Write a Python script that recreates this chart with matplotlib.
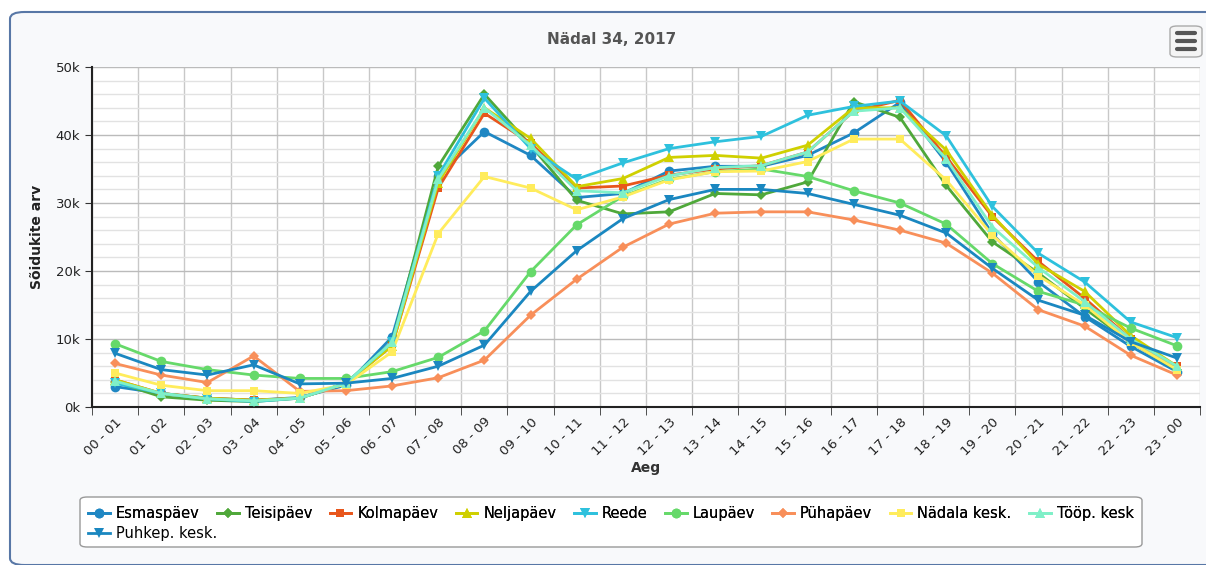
import numpy as np
import matplotlib.pyplot as plt
from matplotlib.patches import FancyBboxPatch
from matplotlib.lines import Line2D
from matplotlib.ticker import MultipleLocator, FuncFormatter

# tunnid
hours = ["%02d - %02d" % (h, (h + 1) % 24) for h in range(24)]

# andmed (tuhandetes)
esmaspaev = [3.0, 2.0, 1.3, 1.0, 1.4, 3.2, 10.3, 34.0, 40.5, 37.0, 30.8, 31.4, 34.7, 35.4, 35.4, 37.0,
             40.3, 44.8, 36.0, 25.5, 18.4, 13.3, 8.9, 5.2]
teisipaev = [3.7, 1.5, 1.0, 0.8, 1.3, 3.5, 9.5, 35.4, 46.0, 38.5, 30.4, 28.4, 28.7, 31.4, 31.2, 33.1,
             44.9, 42.6, 32.6, 24.3, 19.7, 14.5, 9.5, 5.5]
kolmapaev = [4.0, 2.0, 1.3, 1.0, 1.3, 3.5, 9.0, 32.2, 43.2, 38.8, 32.2, 32.5, 34.1, 35.0, 35.5, 37.5,
             43.5, 45.1, 36.8, 28.0, 21.4, 16.0, 10.0, 6.0]
neljapaev = [4.0, 2.0, 1.3, 1.0, 1.3, 3.5, 9.0, 33.0, 44.0, 39.5, 32.4, 33.6, 36.7, 37.0, 36.6, 38.5,
             44.0, 44.0, 37.8, 28.2, 21.0, 17.0, 10.5, 6.0]
reede = [3.5, 2.0, 1.2, 0.8, 1.3, 3.5, 9.5, 34.0, 45.4, 38.0, 33.5, 35.9, 38.0, 39.0, 39.8, 42.9,
         44.2, 45.0, 39.9, 29.5, 22.6, 18.4, 12.5, 10.2]
laupaev = [9.3, 6.7, 5.5, 4.7, 4.2, 4.2, 5.2, 7.3, 11.2, 19.9, 26.8, 31.0, 33.5, 34.6, 35.0, 33.9,
           31.8, 30.0, 26.9, 21.1, 17.0, 15.0, 11.6, 9.0]
puhapaev = [6.4, 4.7, 3.6, 7.5, 2.3, 2.4, 3.1, 4.3, 6.9, 13.5, 18.8, 23.5, 26.9, 28.5, 28.7, 28.7,
            27.5, 26.0, 24.1, 19.7, 14.3, 11.9, 7.6, 4.7]
nadala_kesk = [5.0, 3.2, 2.4, 2.4, 2.0, 3.3, 8.1, 25.5, 33.9, 32.2, 29.0, 30.9, 33.4, 34.6, 34.7, 36.1,
               39.4, 39.4, 33.4, 25.3, 19.3, 15.0, 9.5, 5.5]
toop_kesk = [3.8, 2.0, 1.2, 0.9, 1.3, 3.5, 9.5, 33.5, 44.0, 38.5, 31.8, 31.5, 34.0, 35.2, 35.5, 37.5,
             43.5, 44.0, 36.5, 26.5, 20.5, 15.5, 10.0, 6.0]
puhkep_kesk = [7.9, 5.5, 4.7, 6.2, 3.4, 3.5, 4.2, 6.0, 9.1, 17.0, 23.0, 27.7, 30.5, 32.0, 32.0, 31.4,
               29.8, 28.2, 25.6, 20.4, 15.7, 13.5, 9.6, 7.2]

names = ["Esmaspäev", "Teisipäev", "Kolmapäev", "Neljapäev", "Reede", "Laupäev", "Pühapäev",
         "Nädala kesk.", "Tööp. kesk", "Puhkep. kesk."]
series = [esmaspaev, teisipaev, kolmapaev, neljapaev, reede, laupaev, puhapaev,
          nadala_kesk, toop_kesk, puhkep_kesk]
colors = ["#1f87c3", "#4fa83a", "#e8561c", "#cfd000", "#2ec1dd", "#66d96a", "#f88f5a",
          "#ffec5c", "#7ff0c8", "#1a87c0"]
markers = ["o", "D", "s", "^", "v", "o", "D", "s", "^", "v"]
msizes = [7, 5, 6, 7, 7, 7, 5, 6, 7, 7]

fig = plt.figure(figsize=(12.06, 5.65), dpi=100)
fig.patch.set_facecolor("white")

# välimine raam
frame = FancyBboxPatch((10 / 1206, 0.0), 1.2, (565 - 12) / 565, boxstyle="round,pad=0,rounding_size=0.012",
                       transform=fig.transFigure, facecolor="#f8f9fb", edgecolor="#5877a6", lw=1.5,
                       zorder=-10)
fig.patches.append(frame)

ax = fig.add_axes([92 / 1206, 1 - 407 / 565, 1108 / 1206, 340 / 565])
ax.set_facecolor("white")

x = np.arange(len(hours))
handles = []
for s, n, c, m, ms in zip(series, names, colors, markers, msizes):
    h, = ax.plot(x, np.array(s) * 1000, color=c, marker=m, markersize=ms, lw=2, label=n,
                 markeredgewidth=0, zorder=3)
    handles.append(h)

ax.set_xlim(-0.5, 23.5)
ax.set_ylim(0, 50000)
ax.set_xticks(x)
ax.set_xticklabels(hours, rotation=45, ha="right", rotation_mode="anchor", fontsize=9.5, color="#222222")
ax.set_xticks(np.arange(-0.5, 24, 1), minor=True)
ax.tick_params(axis="x", which="major", length=0, pad=6)
ax.tick_params(axis="x", which="minor", length=6, color="#333333")
ax.yaxis.set_major_locator(MultipleLocator(10000))
ax.yaxis.set_minor_locator(MultipleLocator(2000))
ax.yaxis.set_major_formatter(FuncFormatter(lambda v, p: "%dk" % (v / 1000)))
ax.tick_params(axis="y", which="major", length=5, labelsize=9.5, labelcolor="#222222", color="#333333")
ax.tick_params(axis="y", which="minor", length=0)
ax.grid(True, axis="x", which="minor", color="#c8c8c8", lw=1)
ax.grid(True, axis="y", which="major", color="#bbbbbb", lw=1)
ax.grid(True, axis="y", which="minor", color="#e2e2e2", lw=1)
ax.set_axisbelow(True)
for sp in ["top", "right"]:
    ax.spines[sp].set_visible(False)
ax.spines["left"].set_color("#222222")
ax.spines["bottom"].set_color("#222222")
ax.spines["left"].set_linewidth(1.5)
ax.spines["bottom"].set_linewidth(1.5)

ax.set_xlabel("Aeg", fontsize=10, fontweight="bold", color="#333333", labelpad=2)
ax.set_ylabel("Sõidukite arv", fontsize=10, fontweight="bold", color="#222222", labelpad=8)

fig.text(612 / 1206, 1 - 40 / 565, "Nädal 34, 2017", ha="center", va="center", fontsize=11,
         fontweight="bold", color="#555555")

# menüü nupp
btn = FancyBboxPatch((1170 / 1206, 1 - 57 / 565), 32 / 1206, 31 / 565,
                     boxstyle="round,pad=0,rounding_size=0.006", transform=fig.transFigure,
                     facecolor="#f4f4f4", edgecolor="#aaaaaa", lw=1)
fig.patches.append(btn)
for yy in [33, 41, 49]:
    fig.lines.append(Line2D([1177 / 1206, 1195 / 1206], [1 - yy / 565] * 2, transform=fig.transFigure,
                            color="#555555", lw=3, solid_capstyle="round"))

# legend
lbox = FancyBboxPatch((80 / 1206, 1 - 547 / 565), 1062 / 1206, 50 / 565,
                      boxstyle="round,pad=0,rounding_size=0.006", transform=fig.transFigure,
                      facecolor="white", edgecolor="#999999", lw=1)
fig.patches.append(lbox)
leg1 = fig.legend(handles[:9], names[:9], loc="upper left", bbox_to_anchor=(88 / 1206, 1 - 506 / 565),
                  ncol=9, frameon=False, fontsize=10.5, handlelength=1.5, handletextpad=0.4,
                  columnspacing=1.2, borderaxespad=0, borderpad=0)
leg2 = fig.legend(handles[9:], names[9:], loc="upper left", bbox_to_anchor=(88 / 1206, 1 - 526 / 565),
                  ncol=1, frameon=False, fontsize=10.5, handlelength=1.5, handletextpad=0.4,
                  borderaxespad=0, borderpad=0)
fig.add_artist(leg1)

fig.savefig("out.png", dpi=100)
